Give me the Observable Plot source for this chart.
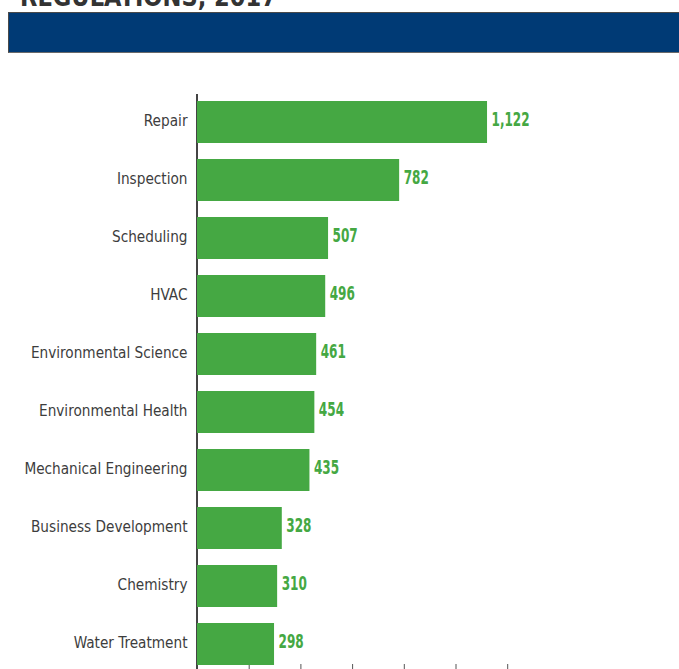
<!DOCTYPE html>
<html>
<head>
<meta charset="utf-8">
<script src="https://cdn.jsdelivr.net/npm/d3@7"></script>
<script src="https://cdn.jsdelivr.net/npm/@observablehq/plot@0.6"></script>
<style>
  html, body { margin: 0; padding: 0; background: #fff; }
  #wrap { width: 679px; overflow: hidden; }
  #title { position: relative; height: 12px; overflow: hidden; }
  #title div { position: absolute; left: 20px; top: -16px; font: bold 26px/26px "DejaVu Sans Condensed", sans-serif; color: #333; white-space: nowrap; transform: scaleX(0.965); transform-origin: 0 0; }
  #banner { margin-left: 8px; height: 39px; background: #003a75; border-top: 1px solid #4a4a4a; border-bottom: 1px solid #6a6a6a; border-left: 1px solid #4a4a4a; }
  #spacer { height: 7px; }
  svg { display: block; }
</style>
</head>
<body>
<div id="wrap">
  <div id="title"><div>REGULATIONS, 2017</div></div>
  <div id="banner"></div>
  <div id="spacer"></div>
  <div id="chart"></div>
</div>
<script>
const categories = ["Repair", "Inspection", "Scheduling", "HVAC", "Environmental Science", "Environmental Health", "Mechanical Engineering", "Business Development", "Chemistry", "Water Treatment"];
const values = [1122, 782, 507, 496, 461, 454, 435, 328, 310, 298];
const xTicks = [200, 400, 600, 800, 1000, 1200];

const data = categories.map((c, i) => ({category: c, value: values[i]}));
const green = "#45a843";
const font = "'DejaVu Sans Condensed', sans-serif";

const chart = Plot.plot({
  width: 679,
  height: 640,
  marginLeft: 197,
  marginRight: 172,
  marginTop: 34,
  marginBottom: 36,
  style: {fontFamily: font, background: "#fff"},
  x: {domain: [0, 1200], range: [197, 507.2]},
  y: {domain: categories, range: [20, 626], padding: 0.2759},
  marks: [
    Plot.axisX({ticks: xTicks, tickSize: 6, tickFormat: () => "", stroke: "#555", label: null}),
    Plot.ruleX([0], {stroke: "#444", strokeWidth: 2, dx: -0.5, insetBottom: -8}),
    Plot.barX(data, {x: "value", y: "category", fill: green}),
    Plot.axisY({tickSize: 0, tickPadding: 10, fontSize: 16.5, fill: "#3d3d3d", label: null, dy: -2, className: "ylab"}),
    Plot.text(data, {x: "value", y: "category", text: d => d3.format(",")(d.value), textAnchor: "start", dx: 4, dy: -3, fill: green, fontWeight: "bold", fontSize: 20, className: "vlab"})
  ]
});
document.getElementById("chart").appendChild(chart);

// condense glyphs to mimic the narrow typeface of the original
function condense(sel, k) {
  chart.querySelectorAll(sel + " text").forEach(t => {
    const len = t.getComputedTextLength();
    t.setAttribute("textLength", (len * k).toFixed(1));
    t.setAttribute("lengthAdjust", "spacingAndGlyphs");
  });
}
condense(".ylab", 0.92);
condense(".vlab", 0.67);
</script>
</body>
</html>
